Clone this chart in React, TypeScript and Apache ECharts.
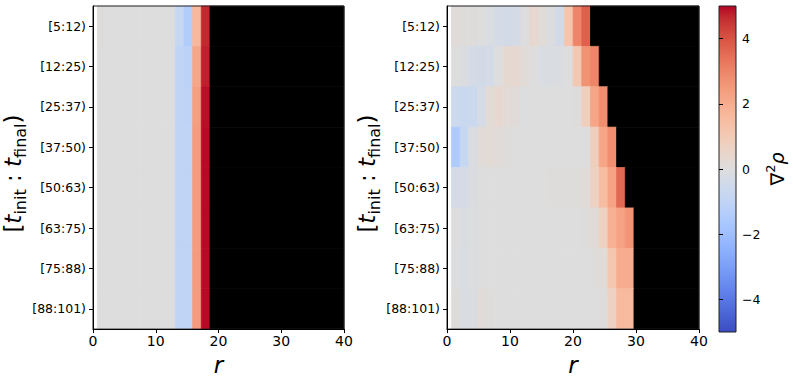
import React, { useEffect, useRef } from 'react';
import * as echarts from 'echarts';

const FONT = 'DejaVu Sans';

const timeWindows = ['[5:12)', '[12:25)', '[25:37)', '[37:50)', '[50:63)', '[63:75)', '[75:88)', '[88:101)'];
const rTicks = [0, 10, 20, 30, 40];
const rMin = 0;
const rMax = 40;
const rBinStart = 0.7;
const rBinWidth = 1.38;
const colorbarTicks = [-4, -2, 0, 2, 4];
const vMin = -5;
const vMax = 5;

// Left panel: Laplacian of density per r-bin, one row per time window
const leftRow1 = [0.05, 0, 0, 0, 0, 0, 0, 0, 0, -0.8, -1.4, 1.65, 4.65];
const leftRow2 = [0, 0, 0, 0, 0, 0, 0, 0, 0, -1.0, -1.1, 2.15, 4.75];
const leftRow3 = [0, 0, 0, 0, 0, 0, 0, 0, 0, -1.0, -1.05, 2.35, 4.9];
const leftRow4 = [0, 0, 0, 0, 0, 0, 0, 0, 0, -1.0, -1.0, 2.45, 4.95];
const leftRow5 = [0, 0, 0, 0, 0, 0, 0, 0, 0, -1.0, -1.0, 2.45, 4.95];
const leftRow6 = [0, 0, 0, 0, 0, 0, 0, 0, 0, -1.0, -1.0, 2.45, 4.95];
const leftRow7 = [0, 0, 0, 0, 0, 0, 0, 0, 0, -1.0, -1.0, 2.45, 4.95];
const leftRow8 = [0, 0, 0, 0, 0, 0, 0, 0, 0, -1.0, -1.0, 2.45, 4.95];

// Right panel
const rightRow1 = [0.1, 0.05, 0.05, 0.0, -0.15, -0.35, -0.4, -0.3, 0.0, 0.35, 0.15, -0.1, -0.4, 1.25, 3.0, 3.75];
const rightRow2 = [0.0, -0.1, -0.3, -0.4, -0.35, 0.0, 0.3, 0.35, 0.15, 0.0, -0.15, -0.15, -0.1, 0.0, 1.1, 2.7, 3.0];
const rightRow3 = [-0.6, -0.7, -0.65, -0.3, 0.2, 0.35, 0.2, 0.1, -0.05, 0.0, 0.0, 0.0, 0.0, 0.0, 0.05, 0.85, 2.2, 2.8];
const rightRow4 = [-1.5, -0.8, -0.15, 0.15, 0.2, 0.1, 0.05, 0, 0, 0, 0, 0, 0, 0, 0, 0, 0.85, 2.2, 2.8];
const rightRow5 = [-0.35, -0.3, -0.1, 0, 0, 0, 0, 0, 0, 0, 0, 0.05, 0.05, 0.05, 0.05, 0.1, 0.7, 1.5, 2.25, 3.6];
const rightRow6 = [0.0, -0.15, -0.05, 0, 0, 0, 0, 0, 0, 0, 0, 0, 0, 0, 0, 0.05, 0.15, 0.7, 1.9, 2.25, 2.65];
const rightRow7 = [-0.05, -0.2, -0.05, 0, 0, 0, 0, 0, 0, 0, 0, 0, 0, 0, 0, 0, 0.05, 0.15, 1.15, 2.0, 2.0];
const rightRow8 = [0.05, -0.15, -0.1, 0.1, 0.05, 0, 0, 0, 0, 0, 0, 0, 0, 0, 0, 0, 0, 0.05, 0.7, 1.6, 1.6];

const leftRows = [leftRow1, leftRow2, leftRow3, leftRow4, leftRow5, leftRow6, leftRow7, leftRow8];
const rightRows = [rightRow1, rightRow2, rightRow3, rightRow4, rightRow5, rightRow6, rightRow7, rightRow8];

const coolwarm = [
  '#3b4cc0', '#445acc', '#4d68d7', '#5775e1', '#6282ea', '#6c8ef1', '#779af7', '#82a5fb',
  '#8db0fe', '#98b9ff', '#a3c2ff', '#adc9fd', '#b8d0f9', '#c2d5f4', '#ccd9ee', '#d5dbe6',
  '#dddddd', '#e5d8d1', '#ecd3c5', '#f1ccb8', '#f5c4ac', '#f7bba0', '#f7b194', '#f6a588',
  '#f49a7b', '#f08d6f', '#ec7f63', '#e57058', '#de604d', '#d55042', '#cb3e38', '#c0282f', '#b40426',
];

function buildCells(rows: number[][]) {
  const out: number[][] = [];
  rows.forEach((vals, rowIdx) => {
    vals.forEach((v, i) => {
      const x0 = rBinStart + i * rBinWidth;
      out.push([x0, x0 + rBinWidth, rowIdx, v, 0]);
    });
    // region with no data (NaN) -> drawn black
    out.push([rBinStart + vals.length * rBinWidth, rMax, rowIdx, 0, 1]);
  });
  return out;
}

function renderCell(params: any, api: any) {
  const x0 = api.value(0);
  const x1 = api.value(1);
  const row = api.value(2);
  const bad = api.value(4);
  const a = api.coord([x0, row]);
  const b = api.coord([x1, row]);
  const h = api.size([0, 1])[1];
  const shape = echarts.graphic.clipRectByRect(
    { x: a[0], y: a[1] - h / 2, width: b[0] - a[0], height: h },
    params.coordSys
  );
  if (!shape) return null;
  const fill = bad ? '#000000' : api.visual('color');
  return { type: 'rect', shape, style: { fill, stroke: fill, lineWidth: 0.8 } };
}

function renderColorbar(params: any, api: any) {
  const a = api.coord([api.value(0), api.value(3)]);
  const b = api.coord([api.value(1), api.value(2)]);
  const n = coolwarm.length - 1;
  const stops = coolwarm.map((c, k) => ({ offset: k / n, color: coolwarm[n - k] }));
  return {
    type: 'rect',
    shape: { x: a[0], y: a[1], width: b[0] - a[0], height: b[1] - a[1] },
    style: { fill: new echarts.graphic.LinearGradient(0, 0, 0, 1, stops) },
  };
}

const yNameRich = {
  n: { fontSize: 23, fontFamily: FONT, color: '#000' },
  i: { fontSize: 23, fontFamily: FONT, fontStyle: 'italic', color: '#000' },
  s: { fontSize: 16, fontFamily: FONT, color: '#000', padding: [14, 0, 0, 0] },
};

function heatAxes(gridIndex: number) {
  const x = {
    gridIndex,
    type: 'value',
    min: rMin,
    max: rMax,
    interval: 10,
    z: 5,
    axisLine: { show: true, lineStyle: { color: '#000', width: 1 } },
    axisTick: { show: true, length: 4, lineStyle: { color: '#000' }, customValues: rTicks },
    axisLabel: { fontSize: 14, color: '#000', fontFamily: FONT, margin: 5, customValues: rTicks },
    splitLine: { show: false },
    name: 'r',
    nameLocation: 'middle',
    nameGap: 21,
    nameTextStyle: { fontSize: 23, fontStyle: 'italic', fontFamily: FONT, color: '#000' },
  };
  const y = {
    gridIndex,
    type: 'category',
    data: timeWindows,
    inverse: true,
    z: 5,
    axisLine: { show: true, lineStyle: { color: '#000', width: 1 } },
    axisTick: { show: true, alignWithLabel: true, length: 4, lineStyle: { color: '#000' } },
    axisLabel: { fontSize: 12.5, color: '#000', fontFamily: FONT, margin: 7 },
    splitLine: { show: false },
    name: '{n|[}{i|t}{s|init}{n| : }{i|t}{s|final}{n|)}',
    nameLocation: 'middle',
    nameRotate: 90,
    nameGap: 60,
    nameTextStyle: { rich: yNameRich, padding: [0, 12, 0, 0] },
  };
  return { x, y };
}

export default function App() {
  const ref = useRef<HTMLDivElement>(null);
  useEffect(() => {
    if (!ref.current) return;
    const chart = echarts.init(ref.current, null, { renderer: 'svg' });
    const l = heatAxes(0);
    const r = heatAxes(1);
    const option: any = {
      animation: false,
      backgroundColor: '#ffffff',
      grid: [
        { left: 93, top: 6, width: 251, height: 326, show: true, borderColor: '#222', borderWidth: 1, backgroundColor: 'transparent', z: 3 },
        { left: 447, top: 6, width: 252, height: 326, show: true, borderColor: '#222', borderWidth: 1, backgroundColor: 'transparent', z: 3 },
        { left: 719, top: 6, width: 17, height: 326, show: true, borderColor: '#222', borderWidth: 1, backgroundColor: 'transparent', z: 3 },
      ],
      xAxis: [l.x, r.x, { gridIndex: 2, type: 'value', min: 0, max: 1, show: false }],
      yAxis: [
        l.y,
        r.y,
        {
          gridIndex: 2,
          type: 'value',
          min: vMin,
          max: vMax,
          position: 'right',
          z: 5,
          axisLine: { show: false },
          axisTick: { show: true, length: 4, lineStyle: { color: '#000' }, customValues: colorbarTicks },
          axisLabel: {
            fontSize: 12.5,
            color: '#000',
            fontFamily: FONT,
            margin: 6,
            customValues: colorbarTicks,
            formatter: (v: number) => String(v).replace('-', '\u2212'),
          },
          splitLine: { show: false },
          name: '{n|\u2207}{p|2}{i|\u03c1}',
          nameLocation: 'middle',
          nameRotate: 90,
          nameGap: 28,
          nameTextStyle: {
            rich: {
              n: { fontSize: 19, fontFamily: FONT, color: '#000' },
              i: { fontSize: 19, fontFamily: FONT, fontStyle: 'italic', color: '#000' },
              p: { fontSize: 13, fontFamily: FONT, color: '#000', padding: [0, 0, 12, 0] },
            },
          },
        },
      ],
      visualMap: {
        type: 'continuous',
        show: false,
        min: vMin,
        max: vMax,
        dimension: 3,
        seriesIndex: [0, 1],
        inRange: { color: coolwarm },
      },
      series: [
        {
          type: 'custom',
          xAxisIndex: 0,
          yAxisIndex: 0,
          z: 1,
          renderItem: renderCell,
          encode: { x: [0, 1], y: 2 },
          data: buildCells(leftRows),
        },
        {
          type: 'custom',
          xAxisIndex: 1,
          yAxisIndex: 1,
          z: 1,
          renderItem: renderCell,
          encode: { x: [0, 1], y: 2 },
          data: buildCells(rightRows),
        },
        {
          type: 'custom',
          xAxisIndex: 2,
          yAxisIndex: 2,
          z: 1,
          renderItem: renderColorbar,
          encode: { x: [0, 1], y: [2, 3] },
          data: [[0, 1, vMin, vMax]],
        },
      ],
    };
    chart.setOption(option);
    return () => chart.dispose();
  }, []);
  return <div ref={ref} style={{ position: 'absolute', left: 0, top: 0, width: 793, height: 381 }} />;
}
